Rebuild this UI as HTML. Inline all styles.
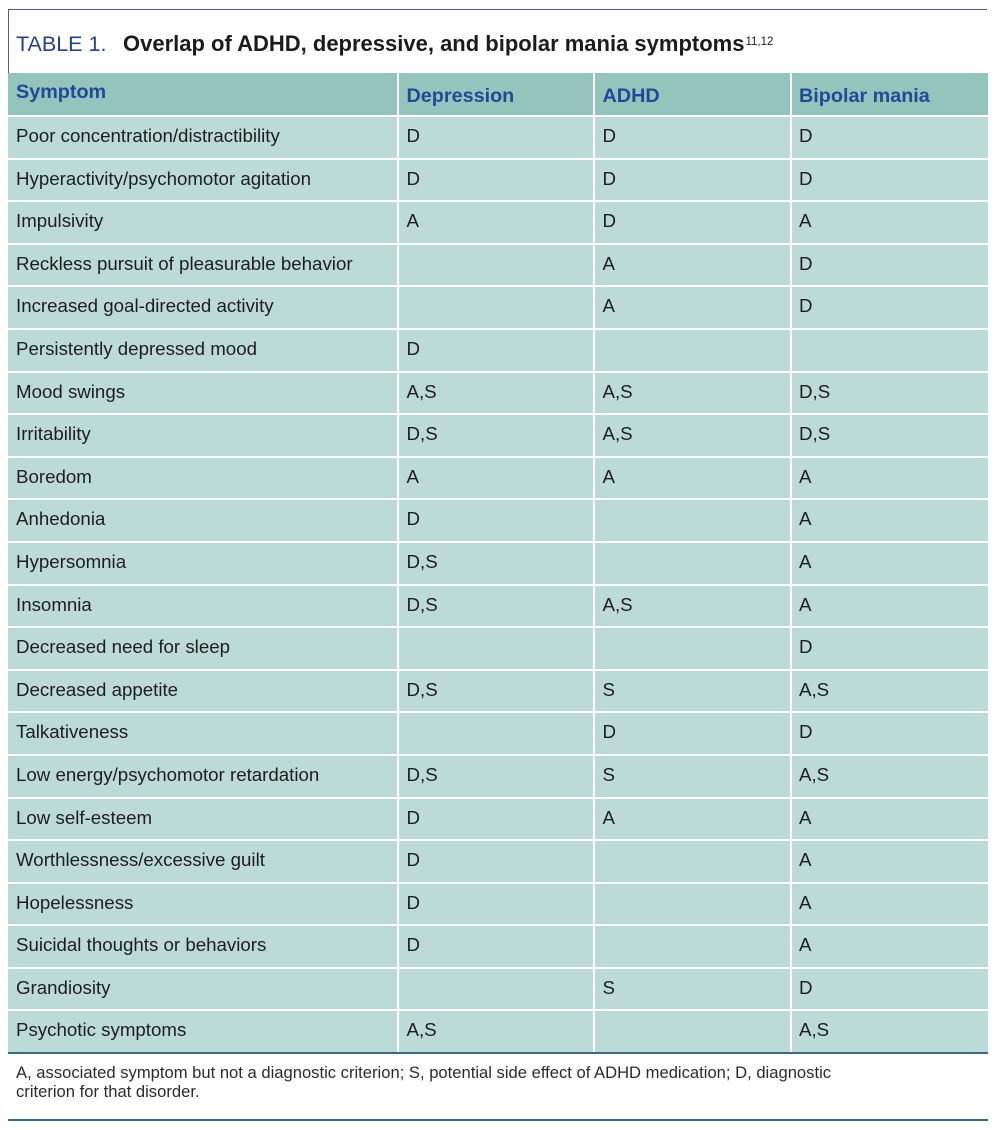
<!DOCTYPE html>
<html>
<head>
<meta charset="utf-8">
<style>
  html,body{margin:0;padding:0;background:#fff;}
  body{width:1000px;height:1130px;position:relative;overflow:hidden;font-family:"Liberation Sans",Arial,sans-serif;}
  .topline{position:absolute;left:7.5px;top:8.5px;width:979.5px;height:1.5px;background:#4f5c86;}
  .leftline{position:absolute;left:7.5px;top:8.5px;width:1.5px;height:65px;background:#4f5c86;}
  .title{position:absolute;left:16px;top:31px;white-space:nowrap;font-size:22px;line-height:26px;color:#1b1b1b;}
  .title .tn{color:#25418c;font-weight:normal;font-size:21.5px;}
  .title b{position:absolute;left:107px;top:0;font-weight:bold;}
  .title sup{font-size:11.5px;font-weight:normal;vertical-align:0;position:relative;top:-6.5px;margin-left:1px;}
  .grid{position:absolute;left:8px;top:73px;width:979.5px;display:grid;
    grid-template-columns:389px 194px 194.5px 196px;column-gap:2px;row-gap:2px;
    grid-template-rows:42px repeat(22,40.6px);background:#fff;}
  .grid div{background:#bcdbd6;color:#1e1e1e;font-size:18.7px;line-height:40.6px;padding-left:7.5px;white-space:nowrap;overflow:hidden;}
  .grid div span{position:relative;top:-1px;}
  .grid .h{background:#94c4bc;color:#214a97;font-weight:bold;font-size:19.8px;line-height:42px;}
  .grid .h span{top:1.5px;}
  .grid .h.first span{top:-2.5px;}
  .grid div:nth-child(4n+1){padding-left:8px;}
  .botline1{position:absolute;left:8px;top:1052.3px;width:979.5px;height:1.8px;background:#3b6887;}
  .foot{position:absolute;left:16px;top:1063px;font-size:16.6px;line-height:19.3px;color:#2b2b2b;white-space:nowrap;}
  .botline2{position:absolute;left:8px;top:1119px;width:979.5px;height:1.8px;background:#3b6887;}
</style>
</head>
<body>
<div class="topline"></div>
<div class="leftline"></div>
<div class="title"><span class="tn">TABLE 1.</span><b>Overlap of ADHD, depressive, and bipolar mania symptoms<sup>11,12</sup></b></div>

<div class="grid">
  <div class="h first"><span>Symptom</span></div><div class="h"><span>Depression</span></div><div class="h"><span>ADHD</span></div><div class="h"><span>Bipolar mania</span></div>

  <div><span>Poor concentration/distractibility</span></div><div><span>D</span></div><div><span>D</span></div><div><span>D</span></div>
  <div><span>Hyperactivity/psychomotor agitation</span></div><div><span>D</span></div><div><span>D</span></div><div><span>D</span></div>
  <div><span>Impulsivity</span></div><div><span>A</span></div><div><span>D</span></div><div><span>A</span></div>
  <div><span>Reckless pursuit of pleasurable behavior</span></div><div><span></span></div><div><span>A</span></div><div><span>D</span></div>
  <div><span>Increased goal-directed activity</span></div><div><span></span></div><div><span>A</span></div><div><span>D</span></div>
  <div><span>Persistently depressed mood</span></div><div><span>D</span></div><div><span></span></div><div><span></span></div>
  <div><span>Mood swings</span></div><div><span>A,S</span></div><div><span>A,S</span></div><div><span>D,S</span></div>
  <div><span>Irritability</span></div><div><span>D,S</span></div><div><span>A,S</span></div><div><span>D,S</span></div>
  <div><span>Boredom</span></div><div><span>A</span></div><div><span>A</span></div><div><span>A</span></div>
  <div><span>Anhedonia</span></div><div><span>D</span></div><div><span></span></div><div><span>A</span></div>
  <div><span>Hypersomnia</span></div><div><span>D,S</span></div><div><span></span></div><div><span>A</span></div>
  <div><span>Insomnia</span></div><div><span>D,S</span></div><div><span>A,S</span></div><div><span>A</span></div>
  <div><span>Decreased need for sleep</span></div><div><span></span></div><div><span></span></div><div><span>D</span></div>
  <div><span>Decreased appetite</span></div><div><span>D,S</span></div><div><span>S</span></div><div><span>A,S</span></div>
  <div><span>Talkativeness</span></div><div><span></span></div><div><span>D</span></div><div><span>D</span></div>
  <div><span>Low energy/psychomotor retardation</span></div><div><span>D,S</span></div><div><span>S</span></div><div><span>A,S</span></div>
  <div><span>Low self-esteem</span></div><div><span>D</span></div><div><span>A</span></div><div><span>A</span></div>
  <div><span>Worthlessness/excessive guilt</span></div><div><span>D</span></div><div><span></span></div><div><span>A</span></div>
  <div><span>Hopelessness</span></div><div><span>D</span></div><div><span></span></div><div><span>A</span></div>
  <div><span>Suicidal thoughts or behaviors</span></div><div><span>D</span></div><div><span></span></div><div><span>A</span></div>
  <div><span>Grandiosity</span></div><div><span></span></div><div><span>S</span></div><div><span>D</span></div>
  <div><span>Psychotic symptoms</span></div><div><span>A,S</span></div><div><span></span></div><div><span>A,S</span></div>
</div>

<div class="botline1"></div>
<div class="foot">A, associated symptom but not a diagnostic criterion; S, potential side effect of ADHD medication; D, diagnostic<br>criterion for that disorder.</div>
<div class="botline2"></div>
</body>
</html>
